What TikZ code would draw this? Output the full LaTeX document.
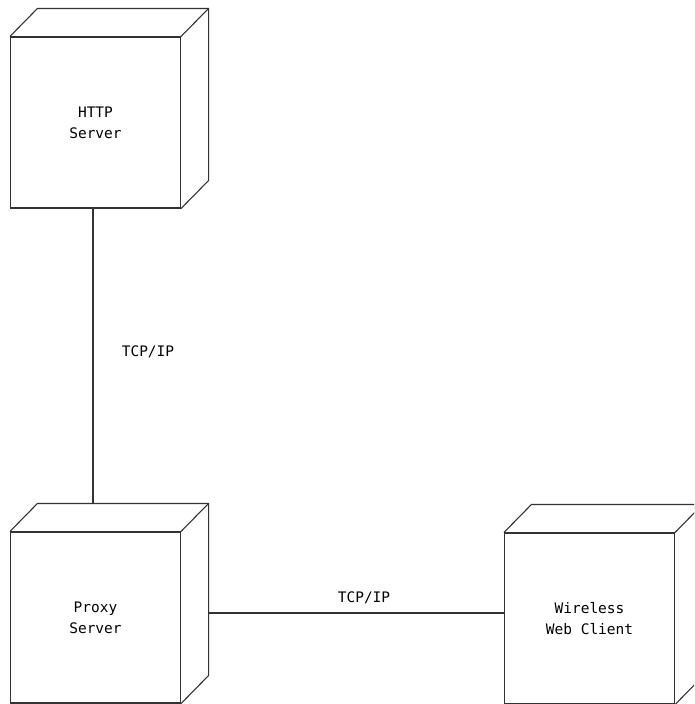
\documentclass[tikz,border=0pt]{standalone}
\usepackage{fontspec}
\setmonofont{DejaVu Sans Mono}
\usetikzlibrary{calc,positioning}
\tikzset{
  devnode/.style ={rectangle,draw,line width=1.1pt,minimum width=170pt,minimum height=171pt,
                   inner sep=0pt,align=center,font=\ttfamily\fontsize{14.5}{21}\selectfont},
  depthedge/.style={line width=1.1pt,line join=miter},
  link/.style    ={line width=1.1pt},
  linklabel/.style={font=\ttfamily\fontsize{14.5}{21}\selectfont,inner sep=1pt},
}
\begin{document}
\begin{tikzpicture}[x=1pt,y=-1pt,draw=black!80]
  \useasboundingbox (0,0) rectangle (694,704);
  \clip (0,0) rectangle (694,704);
  \node[devnode] (http)   at (95.5,122.5) {HTTP\\Server};
  \node[devnode] (proxy)  at (95.5,617.5) {Proxy\\Server};
  \node[devnode] (client) at (589.5,618.5) {Wireless\\Web Client};
  \foreach \n in {http,proxy,client}{
     \draw[depthedge] (\n.north west) -- ++(27.5pt,28pt) -- ($(\n.north east)+(27.5pt,28pt)$)
        -- ($(\n.south east)+(27.5pt,28pt)$) -- (\n.south east);
     \draw[depthedge] (\n.north east) -- ++(27.5pt,28pt);
  }
  \coordinate (httpfoot) at ($(http.south)+(-2.5pt,0)$);
  \coordinate (proxytop) at ($(proxy.north)+(-2.5pt,28pt)$);
  \coordinate (proxyside) at ($(proxy.east)+(27.5pt,4.5pt)$);
  \draw[link] (httpfoot) -- (proxytop);
  \draw[link] (proxyside) -- (proxyside -| client.west);
  \node[linklabel] (tcp1) at (148,352) {TCP/IP};
  \node[linklabel] (tcp2) at (364,598) {TCP/IP};
\end{tikzpicture}
\end{document}
